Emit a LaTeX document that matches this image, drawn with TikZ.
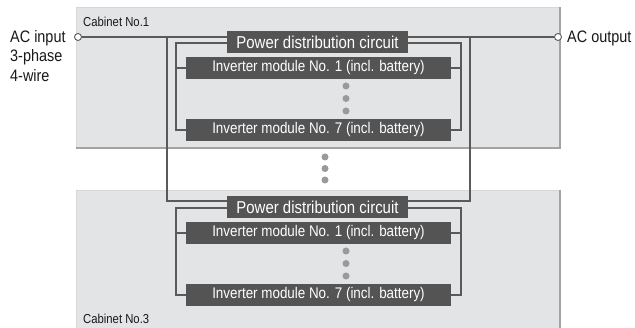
\documentclass[tikz,border=0pt]{standalone}
\usepackage{fontspec}
\setmainfont{Liberation Sans}[FakeStretch=0.87]
\usepackage{tikz}
\usetikzlibrary{calc}
\definecolor{cabfill}{HTML}{E3E4E6}
\definecolor{cabedge}{HTML}{A2A3A5}
\definecolor{cabtop}{HTML}{D6D7D9}
\definecolor{boxgray}{HTML}{545454}
\definecolor{wiregray}{HTML}{5A5A5A}
\definecolor{dotgray}{HTML}{9A9A9A}

\begin{document}
\begin{tikzpicture}[
    x=1pt,y=-1pt,
    wire/.style={draw=wiregray,line width=1.8pt},
    darkbox/.style={fill=boxgray,text=white,inner sep=0pt,minimum height=22pt},
    terminal/.style={circle,draw=wiregray,fill=white,line width=0.9pt,
      inner sep=0pt,minimum size=7pt},
    graydot/.style={circle,fill=dotgray,inner sep=0pt,minimum size=7pt},
    plainlabel/.style={inner sep=0pt,text=black!90}
  ]
    \useasboundingbox (0,0) rectangle (635,328);
    \fill[white] (0,0) rectangle (635,328);
    % cabinets
    \fill[cabfill] (76,7) rectangle (560,148);
    \draw[cabtop,line width=0.8pt] (76,148) -- (76,7) -- (560,7);
    \draw[cabedge,line width=1.6pt] (76,148) -- (560,148) -- (560,7);
    \fill[cabfill] (76,190) rectangle (560,328);
    \draw[cabtop,line width=0.8pt] (76,328) -- (76,190) -- (560,190);
    \draw[cabedge,line width=1.6pt] (560,190) -- (560,328);
    \node[plainlabel,anchor=west,font={\fontsize{13}{15}\selectfont}]
      (cab1) at (83,22) {Cabinet No.1};
    \node[plainlabel,anchor=west,font={\fontsize{13}{15}\selectfont}]
      (cab3) at (83,319) {Cabinet No.3};
    \foreach \cab/\dy in {1/0,3/165} {
      \node[darkbox,minimum width=181pt,font={\fontsize{17.2}{20}\selectfont}]
        (pdc\cab) at (317.5,{42+\dy}) {Power distribution circuit};
      \node[darkbox,minimum width=265pt,font={\fontsize{15.4}{18}\selectfont}]
        (first\cab) at (318.5,{68+\dy}) {Inverter module No. 1 (incl. battery)};
      \node[darkbox,minimum width=265pt,font={\fontsize{15.4}{18}\selectfont}]
        (last\cab) at (318.5,{130+\dy}) {Inverter module No. 7 (incl. battery)};
      \foreach \k in {0,1,2}
        \node[graydot] (dot\cab\k) at (346,{86+12.5*\k+\dy}) {};
      % feeder inside the cabinet
      \draw[wire] ($(pdc\cab.north west)+(0,12)$) -| ($(last\cab.west)+(-10,0)$)
        -- (last\cab.west);
      \draw[wire] (first\cab.west) -- ++(-10,0);
      \draw[wire] ($(pdc\cab.north east)+(0,12)$) -| ($(last\cab.east)+(10,0)$)
        -- (last\cab.east);
      \draw[wire] (first\cab.east) -- ++(10,0);
    }
    \foreach \k in {0,1,2}
      \node[graydot] (middot\k) at (325,{157+11.5*\k}) {};
    % terminals and main bus
    \node[terminal] (acin) at (78,37) {};
    \node[terminal] (acout) at (558,37) {};
    \node[plainlabel,anchor=north west,align=left,
      font={\fontsize{16.6}{19.5}\selectfont}] (inlabel) at (10,30)
      {AC input\\3-phase\\4-wire};
    \node[plainlabel,anchor=west,font={\fontsize{16.6}{19}\selectfont}]
      (outlabel) at (567,38) {AC output};
    \coordinate (busL) at (167,37);
    \coordinate (busR) at (470,37);
    \draw[wire] (acin) -- (acin -| pdc1.west);
    \draw[wire] (acout -| pdc1.east) -- (acout);
    \draw[wire] (busL) |- ($(pdc3.north west)+(0,5)$);
    \draw[wire] (busR) |- ($(pdc3.north east)+(0,5)$);
  \end{tikzpicture}
\end{document}
